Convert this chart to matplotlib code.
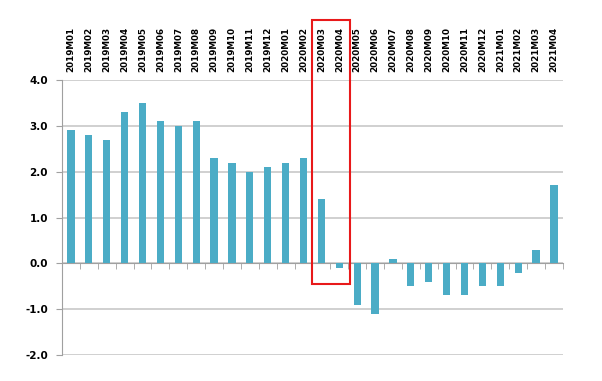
import matplotlib.pyplot as plt
from matplotlib.patches import Rectangle

months = ['2019M01', '2019M02', '2019M03', '2019M04', '2019M05', '2019M06',
          '2019M07', '2019M08', '2019M09', '2019M10', '2019M11', '2019M12',
          '2020M01', '2020M02', '2020M03', '2020M04', '2020M05', '2020M06',
          '2020M07', '2020M08', '2020M09', '2020M10', '2020M11', '2020M12',
          '2021M01', '2021M02', '2021M03', '2021M04']
values = [2.9, 2.8, 2.7, 3.3, 3.5, 3.1, 3.0, 3.1, 2.3, 2.2, 2.0, 2.1,
          2.2, 2.3, 1.4, -0.1, -0.9, -1.1, 0.1, -0.5, -0.4, -0.7, -0.7,
          -0.5, -0.5, -0.2, 0.3, 1.7]
yticks = [-2.0, -1.0, 0.0, 1.0, 2.0, 3.0, 4.0]

fig = plt.figure(figsize=(6.02, 3.81), dpi=100)
ax = fig.add_axes([0.103, 0.068, 0.832, 0.722])

# spine moves first: moving it rebuilds the ticks
ax.spines['bottom'].set_position(('data', 0))
ax.spines['bottom'].set_color('#A0A0A0')
ax.spines['left'].set_color('#A0A0A0')
ax.spines['top'].set_visible(False)
ax.spines['right'].set_visible(False)

x = list(range(len(months)))
ax.bar(x, values, width=0.4, color='#4BACC6', zorder=3)

ax.set_xlim(-0.5, len(months) - 0.5)
ax.set_ylim(-2.0, 4.0)
ax.set_yticks(yticks)
ax.set_yticklabels(['%.1f' % v for v in yticks], fontsize=7.5, fontweight='bold')
ax.yaxis.grid(True, color='#C8C8C8', linewidth=1.2, zorder=0)
ax.tick_params(axis='y', length=4, color='#A0A0A0', pad=6)

# category labels on top, boundary ticks on the zero line
ax.set_xticks(x)
ax.set_xticks([i - 0.5 for i in range(len(months) + 1)], minor=True)
ax.tick_params(axis='x', which='major', length=0, labeltop=True,
               labelbottom=False, top=False, bottom=False, pad=6,
               labelrotation=90, labelsize=6.3)
ax.tick_params(axis='x', which='minor', length=4, color='#A0A0A0',
               bottom=True, top=False, direction='out')
ax.set_xticklabels(months)
for t in ax.xaxis.get_major_ticks():
    t.label2.set_fontweight('bold')

# highlight box around 2020M03-2020M04
ax.add_patch(Rectangle((13.47, -0.44), 2.12, 5.75, fill=False,
                       edgecolor='#E8191A', linewidth=1.5, clip_on=False,
                       zorder=5))

fig.savefig('out.png', dpi=100)
